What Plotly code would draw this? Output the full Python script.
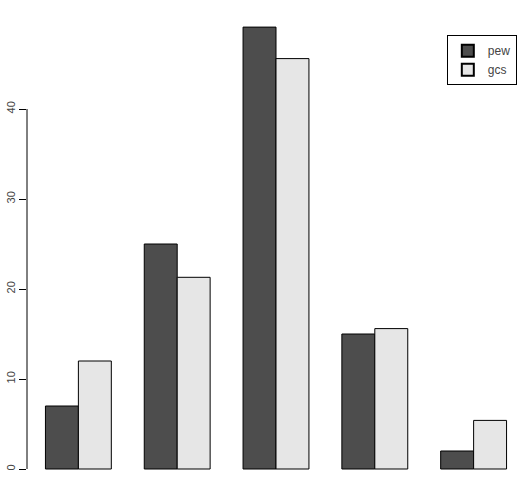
import plotly.graph_objects as go

categories = ["A", "B", "C", "D", "E"]
pew = [7.0, 25.0, 49.1, 15.0, 2.0]
gcs = [12.0, 21.3, 45.6, 15.6, 5.4]
y_ticks = [0, 10, 20, 30, 40]

fig = go.Figure()
fig.add_trace(go.Bar(x=categories, y=pew, name="pew",
                     marker=dict(color="#4D4D4D", line=dict(color="#000000", width=1))))
fig.add_trace(go.Bar(x=categories, y=gcs, name="gcs",
                     marker=dict(color="#E6E6E6", line=dict(color="#000000", width=1))))

fig.update_layout(
    width=526, height=485,
    margin=dict(l=26.5, r=0.5, t=10, b=0),
    paper_bgcolor="white", plot_bgcolor="white",
    barmode="group", bargap=1/3, bargroupgap=0,
    font=dict(family="Liberation Sans, Arial, sans-serif", size=11, color="#333333"),
    showlegend=True,
    legend=dict(x=0.843, y=0.947, xanchor="left", yanchor="top",
                bordercolor="#000000", borderwidth=1, bgcolor="white",
                font=dict(size=12, color="#444444"), itemsizing="constant",
                tracegroupgap=0, itemwidth=30),
    xaxis=dict(range=[-0.52, 4.52], showticklabels=False, showline=False,
               showgrid=False, zeroline=False, ticks=""),
    yaxis=dict(range=[-16/9, 51.0], tickvals=y_ticks, ticktext=[str(v) for v in y_ticks],
               tickangle=-90, ticks="outside", ticklen=7, tickcolor="#000000",
               showgrid=False, zeroline=False, showline=False,
               tickfont=dict(size=11, color="#444444")),
)
fig.add_shape(type="line", xref="paper", yref="y", x0=0, x1=0, y0=0, y1=40,
              line=dict(color="#000000", width=1))

fig.write_html("out.html")
